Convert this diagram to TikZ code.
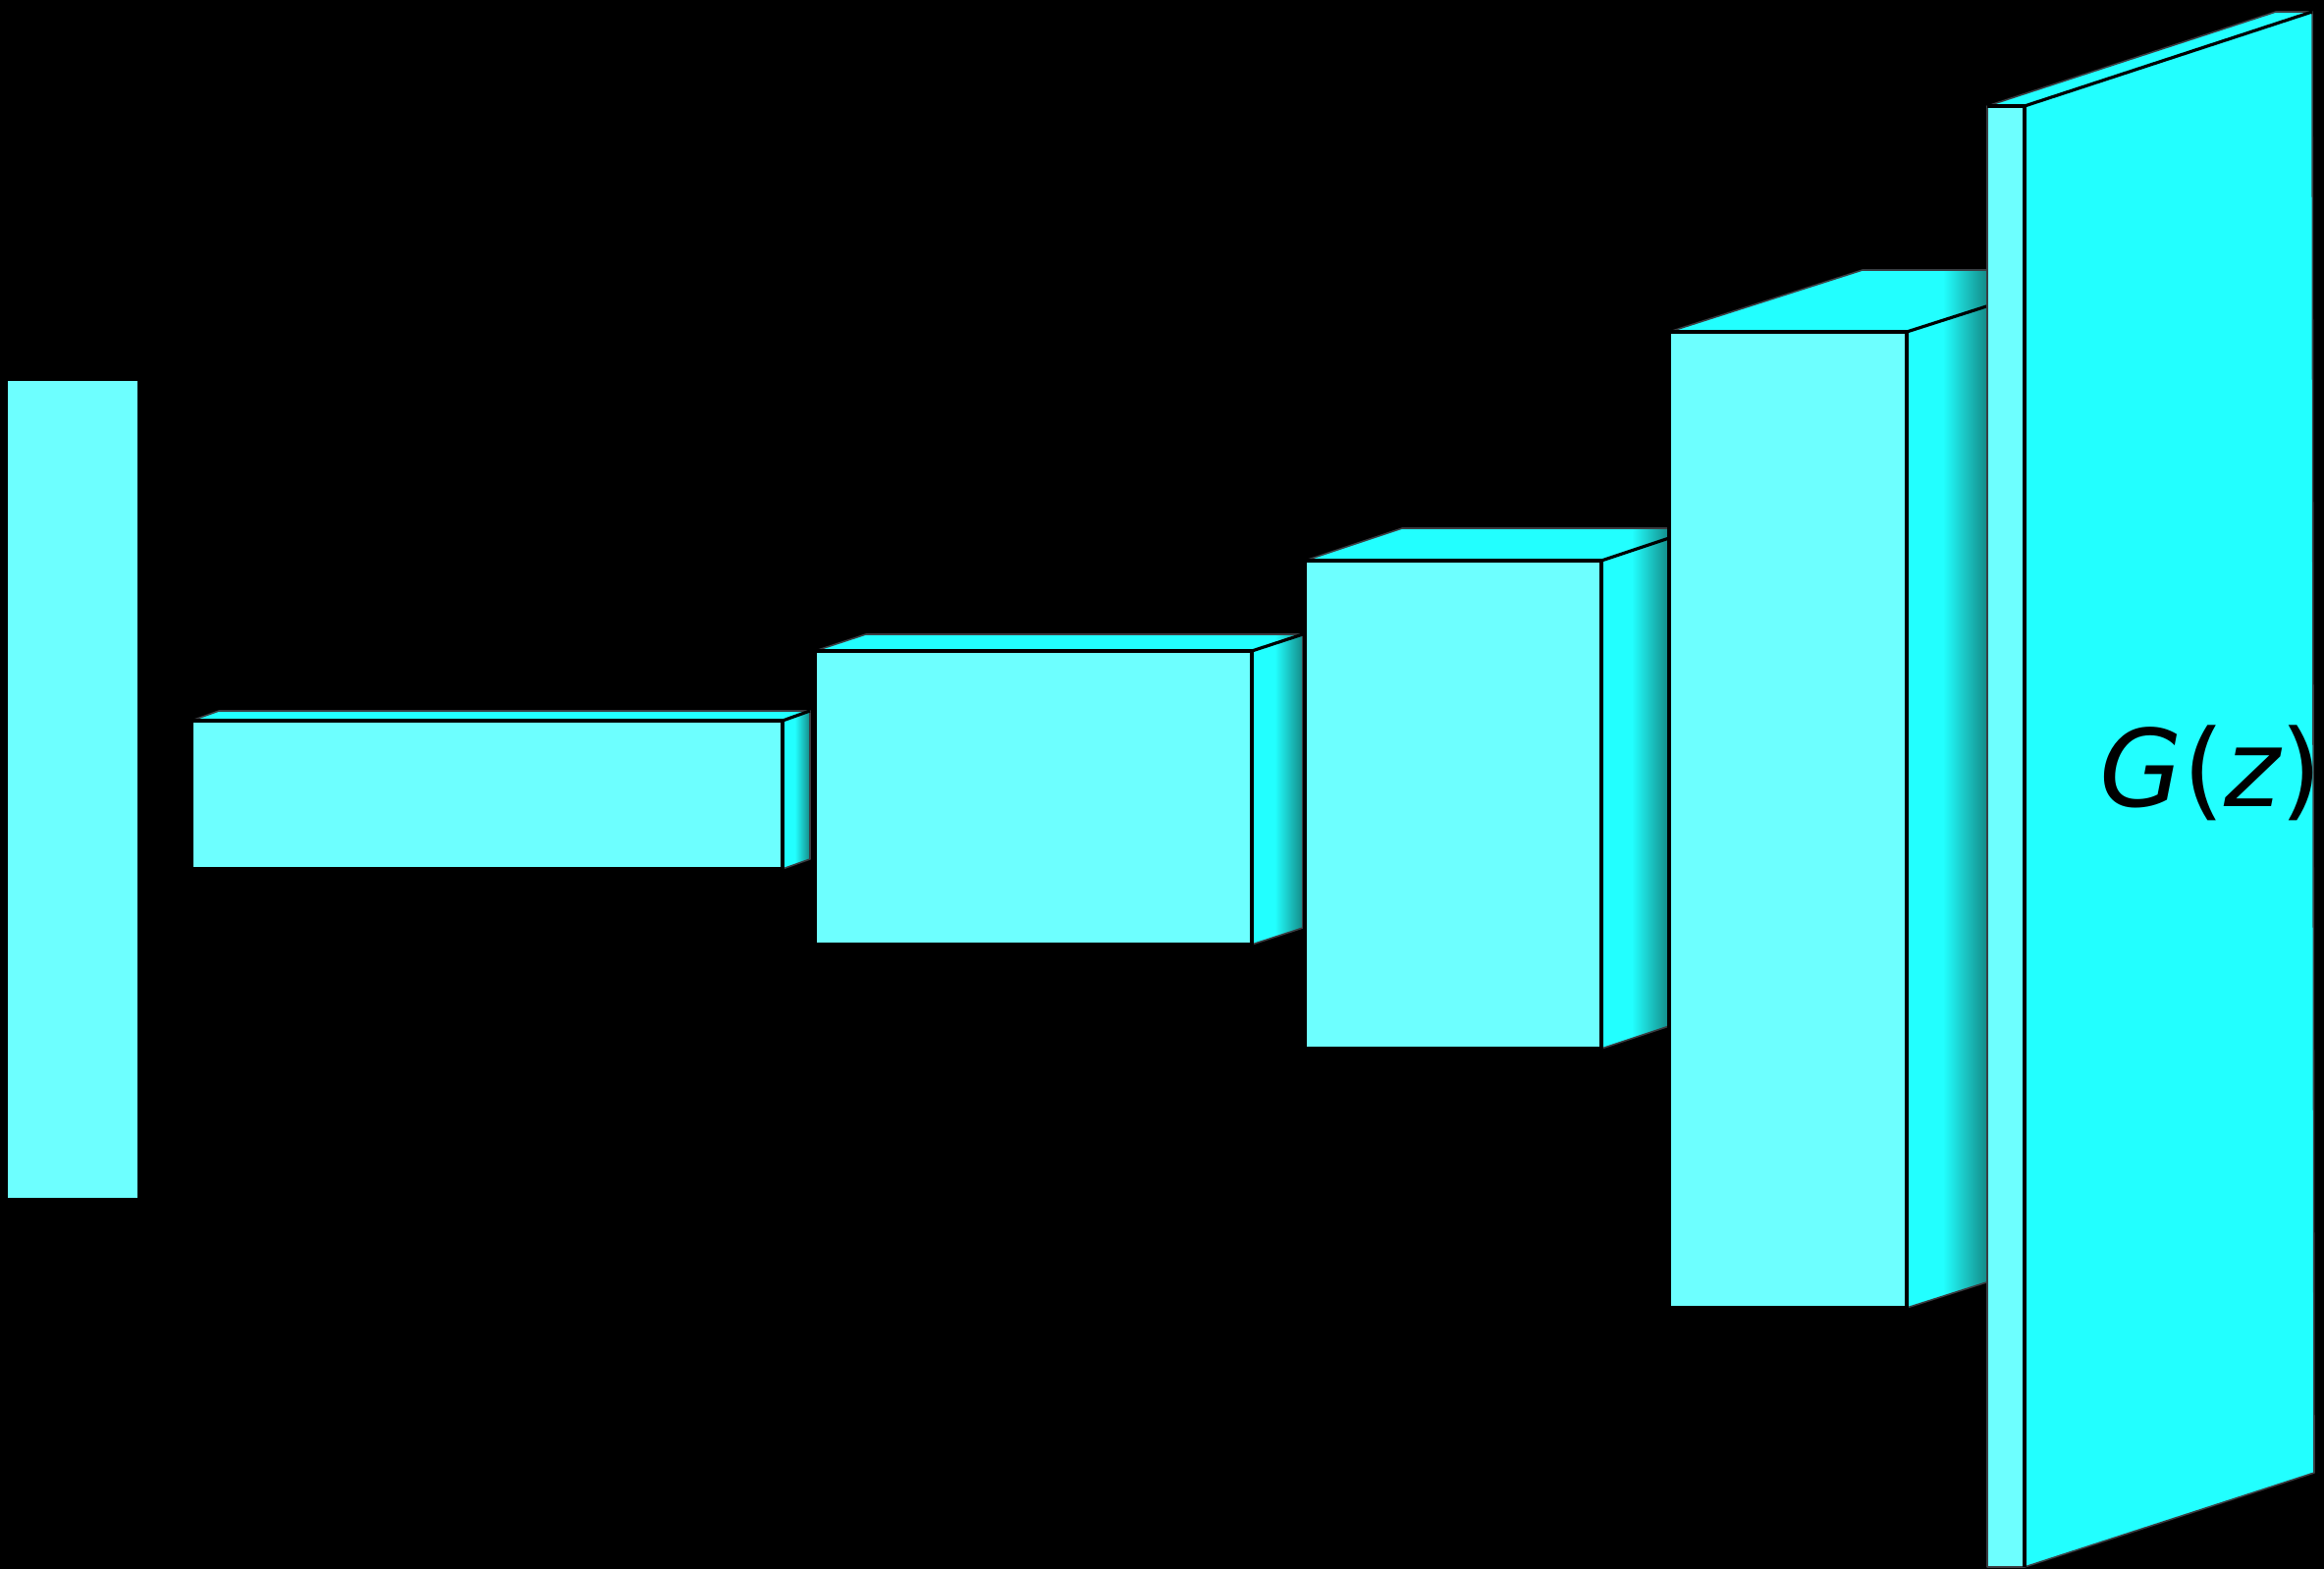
\documentclass[tikz,border=0pt]{standalone}
\usepackage{fontspec}
\newfontfamily\labelfont{DejaVu Sans}
\definecolor{facecyan}{HTML}{6DFFFF}
\definecolor{sidecyan}{HTML}{22FFFF}
\definecolor{sidedark}{HTML}{138A87}
\tikzset{
  edge/.style={draw=black,line width=0.9pt,line join=round},
  rim/.style={draw=black!85!cyan,line width=0.45pt,line join=round},
}

\begin{document}
\begin{tikzpicture}[x={(0.01cm,0)},y={(0,-0.01cm)}]
\fill[black] (0,0) rectangle (2367,1598);
\useasboundingbox (0,0) rectangle (2367,1598);

% latent vector z
\fill[facecyan] (8,388) rectangle (140,1220);

% blocks: front x1/y1/x2/y2, depth dx/rise, end of side fade
\foreach \xa/\ya/\xb/\yb/\dx/\dy/\xe in {195/734/797/885/28/10/825,830/663/1275/962/52/17/1327,1329/571/1631/1068/99/33/1700,1700/338/1942/1332/197/63/2024}
{
 \begin{scope}
  \clip (\xa,\ya) -- (\xa+\dx,\ya-\dy) -- (\xb+\dx,\ya-\dy) -- (\xb+\dx,\yb-\dy) -- (\xb,\yb) -- (\xb,\ya) -- cycle;
  \fill[sidecyan] (\xa,\ya-\dy) rectangle (\xb+\dx,\yb);
  \shade[left color=sidecyan,right color=sidedark] ({\xb+0.45*(\xe-\xb)},\ya-\dy) rectangle (\xe,\yb);
  \fill[sidedark] (\xe,\ya-\dy) rectangle (\xb+\dx,\yb);
 \end{scope}
 \draw[rim] (\xa,\ya) -- (\xa+\dx,\ya-\dy) -- (\xb+\dx,\ya-\dy) -- (\xb+\dx,\yb-\dy) -- (\xb,\yb);
 \fill[facecyan] (\xa,\ya) rectangle (\xb,\yb);
 \draw[edge] (\xa,\ya) rectangle (\xb,\yb);
 \draw[edge] (\xb,\ya) -- (\xb+\dx,\ya-\dy);
}

% output plate
\fill[facecyan] (2024,108) rectangle (2062,1596);
\fill[sidecyan] (2024,108) -- (2318,12) -- (2355,12) -- (2357,1500) -- (2062,1596) -- (2062,108) -- cycle;
\draw[rim] (2062,1596) -- (2024,1596) -- (2024,108) -- (2318,12) -- (2355,12) -- (2357,1500) -- (2062,1596);
\draw[edge] (2024,108) -- (2062,108) -- (2062,1596);
\draw[edge] (2062,108) -- (2355,12);

\node[font={\labelfont\fontsize{31}{37}\selectfont},inner sep=0,anchor=base] (gz) at (2252,822) {{\itshape G}({\itshape z})};
\end{tikzpicture}
\end{document}
